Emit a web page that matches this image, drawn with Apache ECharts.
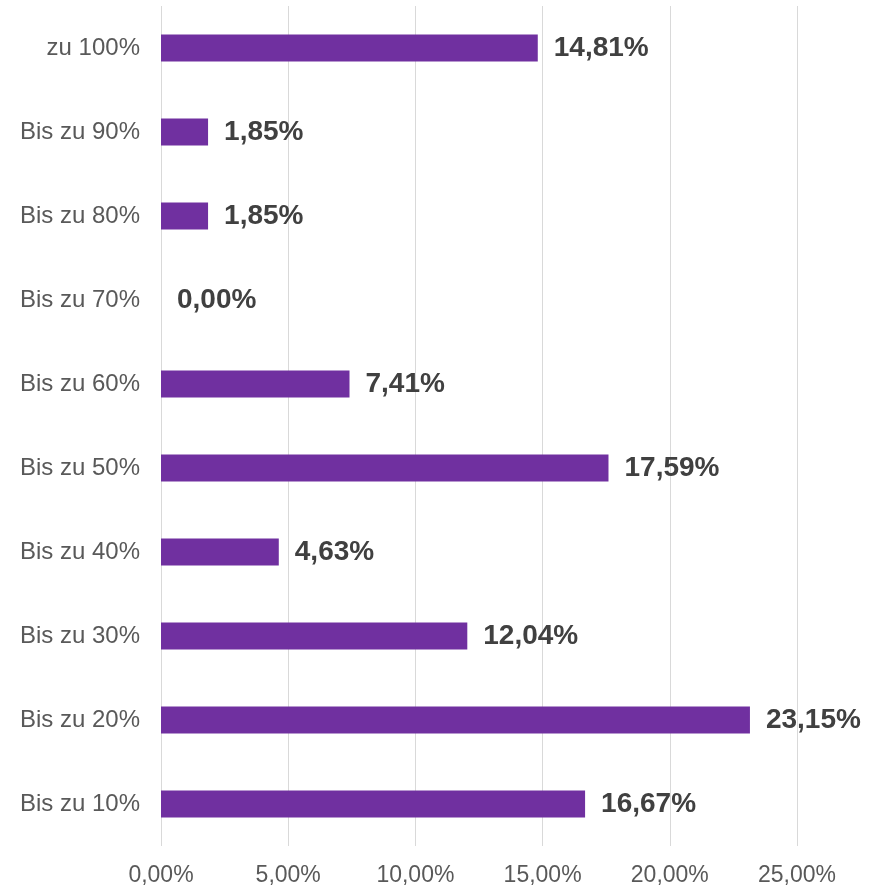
<!DOCTYPE html>
<html>
<head>
<meta charset="utf-8">
<script src="https://cdn.jsdelivr.net/npm/echarts@6/dist/echarts.min.js"></script>
<style>html,body{margin:0;padding:0;background:#fff}#c{width:877px;height:887px}</style>
</head>
<body>
<div id="c"></div>
<script>
var categories = ["Bis zu 10%","Bis zu 20%","Bis zu 30%","Bis zu 40%","Bis zu 50%","Bis zu 60%","Bis zu 70%","Bis zu 80%","Bis zu 90%","zu 100%"];
var values = [16.67, 23.15, 12.04, 4.63, 17.59, 7.41, 0.00, 1.85, 1.85, 14.81];
var xTicks = [0, 5, 10, 15, 20, 25];

function fmt(v){ return v.toFixed(2).replace('.', ',') + '%'; }

var chart = echarts.init(document.getElementById('c'));
chart.setOption({
  animation: false,
  textStyle: { fontFamily: 'Liberation Sans, Arial, sans-serif' },
  grid: { left: 161, right: 80, top: 6, bottom: 40, containLabel: false },
  xAxis: {
    type: 'value',
    min: xTicks[0],
    max: xTicks[xTicks.length - 1],
    interval: 5,
    axisLine: { show: false },
    axisTick: { show: false },
    splitLine: { show: true, lineStyle: { color: '#D9D9D9', width: 1 } },
    axisLabel: { formatter: function(v){ return fmt(v); }, color: '#595959', fontSize: 23, margin: 18, fontFamily: 'Liberation Sans, Arial, sans-serif' }
  },
  yAxis: {
    type: 'category',
    data: categories,
    axisLine: { show: false },
    axisTick: { show: false },
    splitLine: { show: false },
    axisLabel: { color: '#595959', fontSize: 24, margin: 21, padding: [4, 0, 0, 0], fontFamily: 'Liberation Sans, Arial, sans-serif' }
  },
  series: [{
    type: 'bar',
    data: values,
    barWidth: 27,
    itemStyle: { color: '#7030A0' },
    label: {
      show: true,
      position: 'right',
      distance: 16,
      padding: [4, 0, 0, 0],
      formatter: function(p){ return fmt(p.value); },
      color: '#404040',
      fontSize: 28,
      fontWeight: 'bold',
      fontFamily: 'Liberation Sans, Arial, sans-serif'
    }
  }]
});
</script>
</body>
</html>
